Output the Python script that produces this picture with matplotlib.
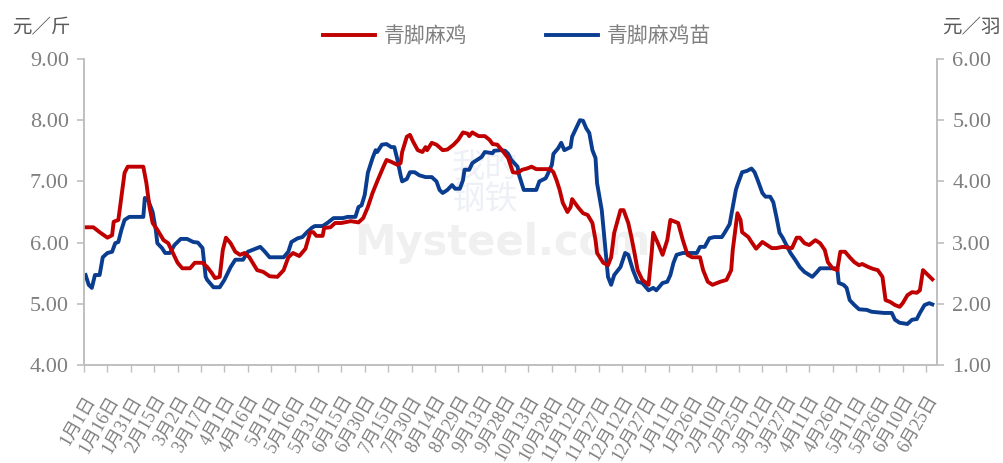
import matplotlib
matplotlib.use('Agg')
import matplotlib.pyplot as plt
from matplotlib.ticker import FormatStrFormatter

plt.rcParams['font.family'] = ['Liberation Serif', 'Noto Sans CJK SC', 'DejaVu Sans']

# days counted from 1月1日 (first year)
red_days = [0, 6, 10, 15, 18, 19, 22, 24, 26, 28, 38, 40, 42, 44, 47, 51, 54, 57, 60, 63,
            68, 71, 76, 79, 82, 84, 87, 89, 91, 94, 97, 100, 103, 106, 111, 115, 119, 124, 128, 131,
            134, 138, 142, 145, 147, 149, 153, 154, 158, 161, 165, 171, 176, 179, 182, 185, 188, 192, 194, 197,
            201, 203, 204, 207, 209, 211, 214, 217, 219, 220, 223, 226, 230, 233, 237, 240, 243, 246, 247, 249,
            253, 257, 260, 262, 265, 269, 272, 275, 278, 281, 284, 287, 290, 299, 301, 303, 305, 307, 310, 312,
            313, 317, 320, 323, 326, 328, 329, 333, 336, 338, 340, 344, 346, 349, 351, 353, 355, 358, 362, 364,
            365, 368, 371, 374, 376, 379, 381, 384, 387, 390, 395, 397, 400, 403, 408, 412, 415, 416, 419, 421,
            422, 426, 428, 431, 435, 438, 441, 444, 448, 454, 457, 459, 462, 465, 469, 472, 475, 477, 480, 483,
            485, 488, 491, 494, 497, 499, 503, 506, 509, 512, 514, 517, 520, 523, 525, 528, 531, 534, 536, 538,
            540, 544]
red_vals = [6.25, 6.25, 6.17, 6.08, 6.12, 6.34, 6.37, 6.75, 7.14, 7.24, 7.24, 6.97, 6.58, 6.32, 6.21, 6.04, 5.99, 5.83, 5.67, 5.58,
            5.58, 5.67, 5.67, 5.60, 5.50, 5.42, 5.44, 5.88, 6.08, 5.99, 5.85, 5.80, 5.83, 5.76, 5.55, 5.52, 5.45, 5.44, 5.55, 5.76,
            5.83, 5.78, 5.90, 6.17, 6.17, 6.11, 6.11, 6.24, 6.25, 6.32, 6.32, 6.35, 6.33, 6.40, 6.58, 6.81, 7.00, 7.24, 7.35, 7.32,
            7.27, 7.30, 7.48, 7.73, 7.76, 7.65, 7.51, 7.48, 7.56, 7.51, 7.63, 7.60, 7.51, 7.52, 7.60, 7.68, 7.80, 7.78, 7.74, 7.80,
            7.74, 7.74, 7.68, 7.61, 7.60, 7.48, 7.38, 7.15, 7.14, 7.19, 7.21, 7.24, 7.20, 7.20, 7.15, 7.02, 6.86, 6.65, 6.50, 6.58,
            6.71, 6.57, 6.48, 6.45, 6.32, 6.04, 5.83, 5.67, 5.63, 5.76, 6.16, 6.53, 6.53, 6.32, 6.09, 5.83, 5.55, 5.39, 5.31, 5.83,
            6.16, 5.99, 5.80, 6.04, 6.37, 6.34, 6.32, 6.04, 5.80, 5.76, 5.76, 5.55, 5.36, 5.31, 5.36, 5.39, 5.55, 5.88, 6.48, 6.37,
            6.17, 6.09, 6.01, 5.90, 6.01, 5.96, 5.91, 5.91, 5.93, 5.91, 6.08, 6.08, 5.99, 5.96, 6.04, 5.99, 5.88, 5.68, 5.58, 5.55,
            5.85, 5.85, 5.76, 5.68, 5.63, 5.65, 5.60, 5.57, 5.55, 5.44, 5.06, 5.03, 4.98, 4.95, 5.01, 5.14, 5.19, 5.18, 5.22, 5.55,
            5.50, 5.40]

blue_days = [1, 3, 5, 7, 10, 12, 15, 18, 20, 22, 24, 26, 29, 38, 39, 41, 44, 46, 47, 50,
             52, 55, 58, 62, 66, 70, 73, 76, 78, 79, 83, 87, 90, 94, 97, 102, 105, 108, 113, 116,
             119, 128, 131, 133, 137, 140, 143, 146, 148, 153, 156, 160, 166, 169, 174, 176, 178, 180, 182, 185,
             187, 188, 191, 194, 197, 199, 201, 203, 204, 207, 209, 212, 215, 219, 223, 226, 228, 230, 233, 236,
             238, 241, 243, 244, 247, 249, 252, 255, 257, 262, 263, 267, 270, 272, 274, 278, 279, 282, 286, 290,
             292, 296, 297, 300, 301, 304, 306, 308, 312, 313, 316, 318, 320, 322, 324, 326, 328, 329, 332, 334,
             336, 338, 340, 344, 347, 349, 352, 355, 358, 362, 365, 367, 371, 374, 376, 378, 380, 384, 393, 395,
             398, 401, 404, 409, 411, 414, 416, 418, 419, 422, 425, 428, 430, 432, 435, 437, 440, 442, 444, 446,
             448, 451, 453, 456, 459, 462, 467, 470, 472, 483, 484, 487, 489, 491, 494, 497, 502, 505, 513, 518,
             520, 523, 528, 531, 534, 536, 539, 542, 544]
blue_vals = [2.47, 2.31, 2.26, 2.47, 2.47, 2.76, 2.83, 2.85, 2.99, 3.01, 3.21, 3.37, 3.42, 3.42, 3.73, 3.70, 3.50, 3.21, 2.99, 2.91,
             2.83, 2.83, 2.96, 3.06, 3.06, 3.01, 3.00, 2.91, 2.44, 2.39, 2.27, 2.27, 2.39, 2.60, 2.72, 2.72, 2.85, 2.88, 2.93, 2.85,
             2.76, 2.76, 2.85, 3.01, 3.07, 3.09, 3.17, 3.24, 3.27, 3.27, 3.32, 3.40, 3.40, 3.42, 3.42, 3.58, 3.61, 3.78, 4.14, 4.38,
             4.51, 4.48, 4.60, 4.61, 4.56, 4.56, 4.35, 4.10, 4.00, 4.04, 4.15, 4.15, 4.10, 4.07, 4.07, 4.00, 3.86, 3.81, 3.86, 3.94,
             3.88, 3.88, 4.02, 4.19, 4.19, 4.30, 4.35, 4.40, 4.48, 4.46, 4.50, 4.51, 4.50, 4.45, 4.35, 4.24, 4.10, 3.86, 3.86, 3.86,
             4.00, 4.05, 4.10, 4.27, 4.45, 4.54, 4.63, 4.51, 4.56, 4.73, 4.89, 5.00, 4.99, 4.87, 4.79, 4.51, 4.38, 3.97, 3.53, 2.99,
             2.44, 2.31, 2.47, 2.60, 2.83, 2.80, 2.55, 2.36, 2.34, 2.22, 2.26, 2.22, 2.34, 2.36, 2.47, 2.67, 2.80, 2.83, 2.83, 2.93,
             2.93, 3.07, 3.09, 3.09, 3.17, 3.30, 3.58, 3.86, 3.94, 4.15, 4.17, 4.21, 4.15, 4.02, 3.81, 3.75, 3.75, 3.66, 3.42, 3.16,
             3.08, 2.93, 2.83, 2.72, 2.60, 2.52, 2.44, 2.52, 2.58, 2.58, 2.34, 2.31, 2.26, 2.06, 1.98, 1.91, 1.90, 1.87, 1.85, 1.85,
             1.74, 1.69, 1.67, 1.74, 1.75, 1.85, 1.98, 2.01, 1.99]

tick_days = list(range(0, 541, 15))
tick_labels = ['1月1日', '1月16日', '1月31日', '2月15日', '3月2日', '3月17日', '4月1日', '4月16日',
               '5月1日', '5月16日', '5月31日', '6月15日', '6月30日', '7月15日', '7月30日', '8月14日',
               '8月29日', '9月13日', '9月28日', '10月13日', '10月28日', '11月12日', '11月27日', '12月12日',
               '12月27日', '1月11日', '1月26日', '2月10日', '2月25日', '3月12日', '3月27日', '4月11日',
               '4月26日', '5月11日', '5月26日', '6月10日', '6月25日']

red = '#C00000'
blue = '#0A3D8F'
grey_txt = '#7F7F7F'
grey_ax = '#BFBFBF'

fig = plt.figure(figsize=(10.04, 4.63), dpi=100)
ax = fig.add_axes([0.0837, 0.2117, 0.8496, 0.6609])
ax2 = ax.twinx()

# faint watermark, kept under the lines
ax2.text(0.47, 0.59, '我的\n钢铁', transform=ax2.transAxes, fontsize=24, color='#EDF0F6',
         ha='center', va='center', linespacing=1.05, zorder=0)
ax2.text(0.49, 0.40, 'Mysteel.com', transform=ax2.transAxes, fontsize=30, color='#F0F0F0',
         fontweight='bold', family='DejaVu Sans', ha='center', va='center', zorder=0)

l1, = ax.plot(red_days, red_vals, color=red, lw=2.8, solid_joinstyle='round', label='青脚麻鸡')
l2, = ax2.plot(blue_days, blue_vals, color=blue, lw=2.8, solid_joinstyle='round', label='青脚麻鸡苗')

ax.set_xlim(0, 547)
ax.set_ylim(4, 9)
ax2.set_ylim(1, 6)
ax.set_yticks([4, 5, 6, 7, 8, 9])
ax2.set_yticks([1, 2, 3, 4, 5, 6])
ax.yaxis.set_major_formatter(FormatStrFormatter('%.2f'))
ax2.yaxis.set_major_formatter(FormatStrFormatter('%.2f'))

ax.set_xticks(tick_days)
ax.set_xticklabels(tick_labels, rotation=60, ha='right', va='top', rotation_mode='anchor',
                   fontsize=13, color=grey_txt)

for a in (ax, ax2):
    a.spines['top'].set_visible(False)
    for s in ('left', 'right', 'bottom'):
        a.spines[s].set_color(grey_ax)
        a.spines[s].set_linewidth(1.2)
    a.tick_params(axis='y', colors=grey_ax, labelcolor=grey_txt, labelsize=16, length=5, width=1.2, pad=6)
ax.tick_params(axis='x', colors=grey_ax, labelcolor=grey_txt, length=5, width=1.0, pad=15)
ax.set_zorder(ax2.get_zorder() + 1)
ax.patch.set_visible(False)

fig.text(0.012, 0.94, '元／斤', fontsize=14, color='#595959', ha='left', va='center')
fig.text(0.997, 0.94, '元／羽', fontsize=14, color='#595959', ha='right', va='center')

fig.legend(handles=[l1, l2], loc='center', bbox_to_anchor=(0.515, 0.92), ncol=2, frameon=False,
           fontsize=15, labelcolor=grey_txt, handlelength=2.5, columnspacing=3.8, handletextpad=0.4)

fig.savefig('out.png', dpi=100)
